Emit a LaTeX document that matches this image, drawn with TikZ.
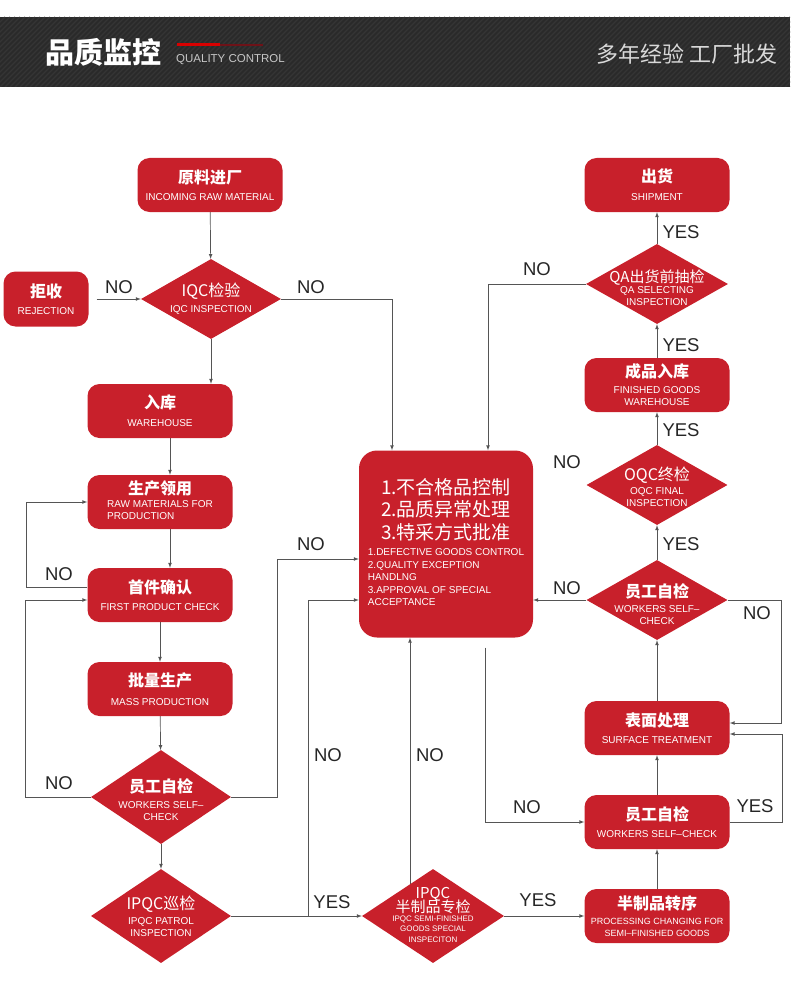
\documentclass[tikz,border=0pt]{standalone}
\usepackage{fontspec}
\setmainfont{Liberation Sans}
\newfontfamily\cjk{Noto Sans CJK SC}
\usetikzlibrary{shapes.geometric,backgrounds}

\definecolor{qred}{HTML}{C8202B}
\definecolor{qline}{HTML}{555555}
\definecolor{hdr}{HTML}{2A2A2A}
\definecolor{hstripe}{HTML}{353535}

\newcommand{\zh}[2][16]{{\cjk\fontsize{#1}{#1}\selectfont #2}}
\newcommand{\zhb}[2][16]{{\cjk\bfseries\fontsize{#1}{#1}\selectfont #2}}

\tikzset{
  box/.style={fill=qred, rounded corners=12pt, minimum width=145pt, minimum height=54pt,
    text=white, align=center, inner sep=2pt, font=\fontsize{10}{12}\selectfont},
  dia/.style={diamond, fill=qred, inner sep=0pt, minimum width=141pt, minimum height=80pt},
  dtext/.style={text=white, align=center, inner sep=0pt, font=\fontsize{10}{12}\selectfont},
  arr/.style={draw=qline, line width=0.7pt, -latex},
  lbl/.style={font=\fontsize{18.5}{20}\selectfont, text=black!85, inner sep=0pt},
}

\begin{document}
\begin{tikzpicture}[x=1pt,y=-1pt]
    \useasboundingbox (0,0) rectangle (790,987);
    \coordinate (xM) at (170,0);
    \coordinate (xB) at (308,0);
    \coordinate (xC) at (392,0);
    \coordinate (xD) at (410,0);
    \coordinate (xE) at (485,0);
    \coordinate (xF) at (488,0);

    % header band
    \begin{scope}
      \clip (0,17) rectangle (790,87);
      \fill[hdr] (0,17) rectangle (790,87);
      \foreach \s in {-70,-65,...,860}{% diagonal texture
        \draw[hstripe,line width=1.2pt] (\s,87) -- ++(70,-70);
      }
    \end{scope}
    \node[font=\cjk\bfseries\fontsize{29}{30}\selectfont, text=white, anchor=west, inner sep=0pt] (title) at (45,52) {品质监控};
    \node[font=\fontsize{11.5}{12}\selectfont, text=black!22, anchor=west, inner sep=0pt] (subtitle) at (176,60) {QUALITY CONTROL};
    \fill[red!85!black] (177,43.5) rectangle (220,46.5);
    \fill[qred!55!black] (220,44) rectangle (263,46);
    \node[font=\cjk\fontsize{22}{24}\selectfont, text=black!15, anchor=east, inner sep=0pt] (slogan) at (778,54) {多年经验 工厂批发};

    % left column
    \node[box] (raw) at (210,185) {\zhb{原料进厂}\\[5pt]INCOMING RAW MATERIAL};
    \node[dia, minimum width=140pt, label={[dtext]center:{\zh{IQC检验}\\[4pt]IQC INSPECTION}}] (iqc) at (211,299) {};
    \node[box, minimum width=85pt, minimum height=55pt] (rej) at (46,299) {\zhb{拒收}\\[5pt]REJECTION};
    \node[box] (store) at (160,411) {\zhb{入库}\\[6pt]WAREHOUSE};
    \node[box] (prod) at (160,502) {\zhb{生产领用}\\[2pt]\begin{tabular}{@{}l@{}}RAW MATERIALS FOR\\PRODUCTION\end{tabular}};
    \node[box] (first) at (160,595) {\zhb{首件确认}\\[5pt]FIRST PRODUCT CHECK};
    \node[box] (mass) at (160,689) {\zhb{批量生产}\\[7pt]MASS PRODUCTION};
    \node[dia, minimum width=140pt, minimum height=94pt, label={[dtext,yshift=-3pt]center:{\zhb{员工自检}\\[4pt]WORKERS SELF–\\CHECK}}] (wsc1) at (161,797) {};
    \node[dia, minimum width=140pt, minimum height=94pt, label={[dtext]center:{\zh{IPQC巡检}\\[3pt]IPQC PATROL\\INSPECTION}}] (ipqc) at (161,916) {};
    \node[dia, minimum width=142pt, minimum height=94pt, label={[dtext]center:{\zh[15]{IPQC}\\[-2pt]\zh[15]{半制品专检}\\[-1pt]{\fontsize{8}{10.5}\selectfont\begin{tabular}{@{}c@{}}IPQC SEMI-FINISHED\\GOODS SPECIAL\\INSPECITON\end{tabular}}}}] (semi) at (433,916) {};

    % centre
    \node[box, minimum width=174pt, minimum height=187pt, rounded corners=18pt] (big) at (446,544)
      {\zh[19]{1.不合格品控制}\\[4pt]\zh[19]{2.品质异常处理}\\[4pt]\zh[19]{3.特采方式批准}\\[5pt]
       {\fontsize{10}{12.5}\selectfont\begin{tabular}{@{}l@{}}1.DEFECTIVE GOODS CONTROL\\2.QUALITY EXCEPTION\\HANDLNG\\3.APPROVAL OF SPECIAL\\ACCEPTANCE\end{tabular}}};

    % right column
    \node[box] (ship) at (657,185) {\zhb{出货}\\[6pt]SHIPMENT};
    \node[dia, minimum width=142pt, label={[dtext,yshift=-4pt]center:{\zh[15]{QA出货前抽检}\\[-1pt]QA SELECTING\\INSPECTION}}] (qa) at (657,284) {};
    \node[box] (fin) at (657,385) {\zhb{成品入库}\\[4pt]FINISHED GOODS\\WAREHOUSE};
    \node[dia, label={[dtext,yshift=-2pt]center:{\zh{OQC终检}\\[2pt]OQC FINAL\\INSPECTION}}] (oqc) at (657,485) {};
    \node[dia, label={[dtext,yshift=-4pt]center:{\zhb{员工自检}\\[3pt]WORKERS SELF–\\CHECK}}] (wsc2) at (657,600) {};
    \node[box] (surf) at (657,728) {\zhb{表面处理}\\[5pt]SURFACE TREATMENT};
    \node[box] (wscb) at (657,822) {\zhb{员工自检}\\[5pt]WORKERS SELF–CHECK};
    \node[box] (half) at (657,916) {\zhb{半制品转序}\\[3pt]{\fontsize{9}{11}\selectfont PROCESSING CHANGING FOR}\\{\fontsize{9}{11}\selectfont SEMI–FINISHED GOODS}};

    \begin{scope}[on background layer]
      \draw[arr] (raw) -- (iqc);
      \draw[arr, shorten <=8pt] (rej.east) -- (iqc.west);
      \draw[arr] (iqc.east) -| (big.north -| xC);
      \draw[arr] (iqc.south) -- (iqc.south |- store.north);
      \draw[arr] (store.south -| xM) -- (prod.north -| xM);
      \draw[arr] (prod.south -| xM) -- (first.north -| xM);
      \draw[arr] (first) -- (mass);
      \draw[arr] (mass) -- (wsc1);
      \draw[arr] (wsc1) -- (ipqc);
      \draw[arr] ([yshift=8pt]first.west) -- ++(-61,0) |- (prod.west);
      \draw[arr] (wsc1.west) -- ++(-65,0) |- ([yshift=-5pt]first.west);
      \draw[arr] (wsc1.east) -- ++(46,0) |- ([yshift=-15pt]big.west);
      \draw[arr] (ipqc.east) -- (semi.west);
      \draw[arr] (ipqc.east -| xB) |- ([yshift=-56pt]big.west);
      \draw[arr] (semi.center -| xD) -- (big.south -| xD);
      \draw[arr] (semi.east) -- (half.west);
      \draw[arr] (half) -- (wscb);
      \draw[arr] (wscb) -- (surf);
      \draw[arr] (wscb.east) -- ++(53,0) |- ([yshift=-6pt]surf.east);
      \draw[arr] (surf) -- (wsc2);
      \draw[arr] (wsc2.east) -- ++(54,0) |- ([yshift=5pt]surf.east);
      \draw[arr] (wsc2.west) -- (wsc2.west -| big.east);
      \draw[arr] (wsc2) -- (oqc);
      \draw[arr] (oqc) -- (fin);
      \draw[arr] (fin) -- (qa);
      \draw[arr] (qa) -- (ship);
      \draw[arr] (qa.west) -| (big.north -| xF);
      \draw[arr, shorten <=10pt] (big.south -| xE) |- (wscb.west);
    \end{scope}

    % branch labels
    \foreach \t/\x/\y [count=\i] in {NO/119/287, NO/311/287, NO/537/269, YES/681/232, YES/681/345,
        YES/681/430, YES/681/544, NO/567/462, NO/567/588, NO/757/613, YES/755/806, NO/527/807,
        NO/59/574, NO/59/783, NO/311/544, NO/328/755, NO/430/755, YES/332/902, YES/538/900}{
      \node[lbl] (lab\i) at (\x,\y) {\t};
    }
\end{tikzpicture}
\end{document}
